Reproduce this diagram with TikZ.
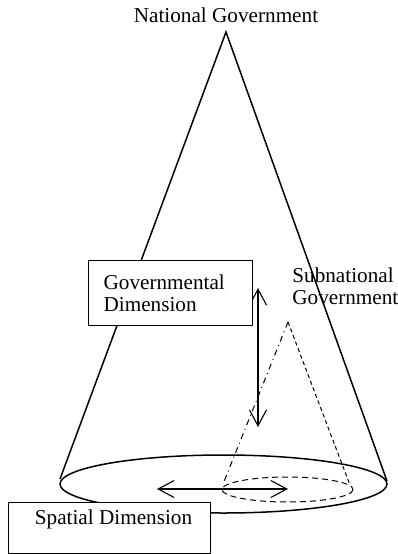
\documentclass[tikz,border=0pt]{standalone}
\usepackage{fontspec}
\setmainfont{Liberation Serif}
\usetikzlibrary{arrows.meta}
\begin{document}
\begin{tikzpicture}[
    x=0.5pt, y=-0.5pt,
    every node/.style={inner sep=0pt, font=\fontsize{10.6}{11}\selectfont},
    outline/.style={line width=0.75pt},
    dimbox/.style={draw, fill=white, line width=0.6pt, anchor=north west},
    dimarrow/.style={{Straight Barb[length=8pt,width=8.5pt]}-{Straight Barb[length=8pt,width=8.5pt]}, line width=0.55pt}
]
\useasboundingbox (0,0) rectangle (398,554);
\node[anchor=base] (national) at (226,22) {National Government};
\coordinate (apex) at (226,32);
\coordinate (baseL) at (60,479);
\coordinate (baseR) at (387,481);
\draw[outline] (baseL) -- (apex) -- (baseR);
\draw[outline] (223.5,484) ellipse [x radius=163.5, y radius=29];
\coordinate (subapex) at (288,322);
\coordinate (subL) at (223,484);
\coordinate (subR) at (350,485);
\draw[line width=0.5pt, dash dot] (subapex) -- (subL);
\draw[line width=0.5pt, dash pattern=on 2pt off 1.5pt] (subapex) -- (subR);
\draw[line width=0.5pt, dash pattern=on 3pt off 2pt] (287.5,489.5) ellipse [x radius=65.5, y radius=12.5];
\node[anchor=north west, align=left] (subnational) at (292,267) {Subnational\\Government};
\coordinate (vtop) at (258,288);
\coordinate (vbot) at (258,427);
\draw[dimarrow] (vtop) -- (vbot);
\coordinate (hleft) at (157,489);
\coordinate (hright) at (288,489);
\draw[dimarrow] (hleft) -- (hright);
\node[dimbox, minimum width=82pt, minimum height=32.5pt, inner xsep=7.5pt, text width=67pt, align=left] (governmental) at (88,260) {Governmental\\Dimension};
\node[dimbox, minimum width=101pt, minimum height=25.5pt] (spatial) at (8,502) {};
\node (spatiallabel) at (113.5,519) {Spatial Dimension};
\end{tikzpicture}
\end{document}
